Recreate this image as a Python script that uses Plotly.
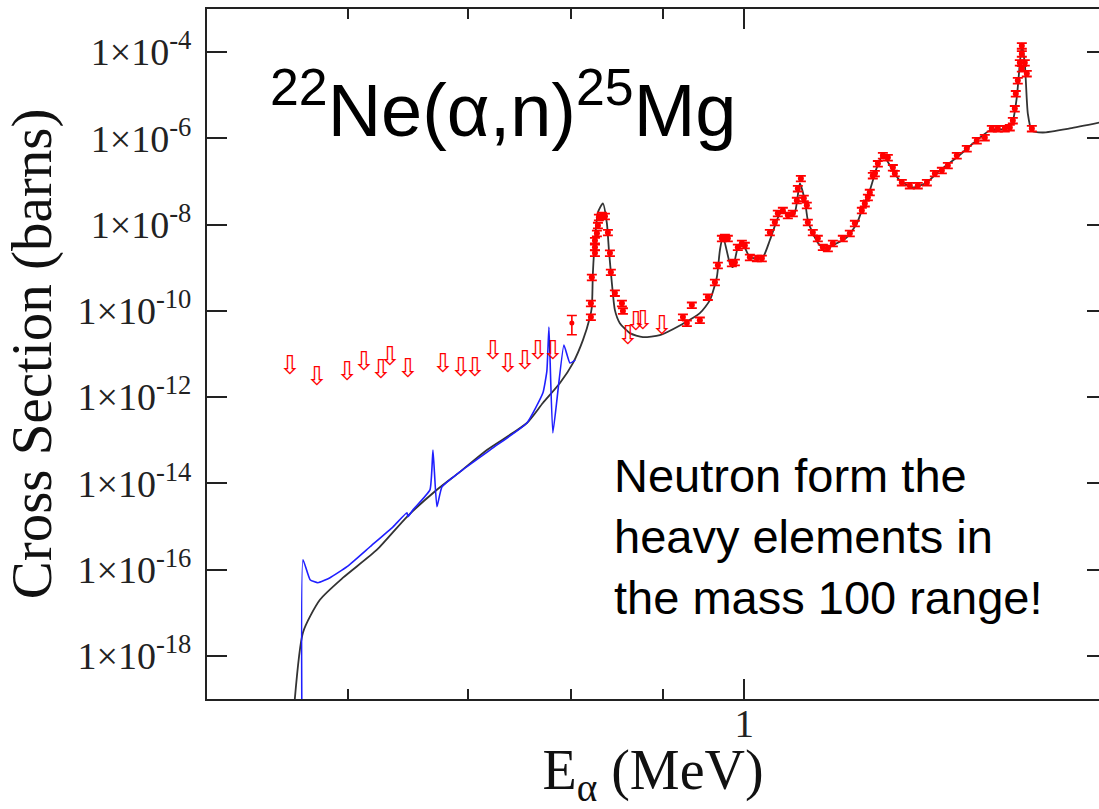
import math
import plotly.graph_objects as go

# R-matrix style calculation of the cross section (black curve)
calc_E = [0.5575, 0.5659, 0.5784, 0.5959, 0.6226, 0.6471, 0.6726, 0.6929, 0.7174, 0.7554,
          0.7711, 0.7883, 0.8016, 0.8120, 0.8194, 0.8214, 0.8225, 0.8247, 0.8279, 0.8332,
          0.8375, 0.8397, 0.8429, 0.8462, 0.8516, 0.8627, 0.8773, 0.8967, 0.9202, 0.9442,
          0.9565, 0.9651, 0.9689, 0.9727, 0.9815, 0.9853, 0.9916, 0.9968, 1.0071, 1.0163,
          1.0241, 1.0334, 1.0428, 1.0496, 1.0604, 1.0673, 1.0742, 1.0811, 1.0853, 1.0923,
          1.1023, 1.1123, 1.1267, 1.1413, 1.1562, 1.1651, 1.1756, 1.1864, 1.1956, 1.2111,
          1.2220, 1.2427, 1.2654, 1.2867, 1.3152, 1.3427, 1.3725, 1.4028, 1.4138, 1.4210,
          1.4266, 1.4303, 1.4358, 1.4414, 1.4489, 1.4695, 1.5216, 1.5815]
calc_sigma = [1e-20, 3.5e-18, 2.0e-17, 6.5e-17, 2.9e-16, 1.68e-15, 7.1e-15, 1.85e-14, 5.96e-14, 2.51e-13,
              7.3e-13, 2.12e-12, 6.16e-12, 2.1e-11, 7.15e-11, 1.22e-10, 7.46e-10, 4.33e-9, 1.93e-8, 3.11e-8,
              1.07e-8, 2.54e-9, 4.38e-10, 1.04e-10, 5.19e-11, 3.05e-11, 2.46e-11, 2.74e-11, 4.6e-11, 8.84e-11,
              1.77e-10, 6.03e-10, 2.54e-9, 5.36e-9, 1.27e-9, 1.03e-9, 2.98e-9, 3.89e-9, 1.75e-9, 1.66e-9,
              1.75e-9, 4.33e-9, 1.26e-8, 2.14e-8, 1.64e-8, 1.93e-8, 9.04e-8, 3.65e-8, 1.26e-8, 6.29e-9,
              3.32e-9, 2.83e-9, 3.69e-9, 5.08e-9, 1.07e-8, 2.51e-8, 6.22e-8, 2.12e-7, 4.02e-7, 1.81e-7,
              1.06e-7, 7.3e-8, 9.53e-8, 1.81e-7, 3.61e-7, 7.62e-7, 1.52e-6, 1.70e-6, 2.60e-6, 8.84e-6,
              5.42e-5, 1.41e-4, 5.42e-5, 3.77e-6, 1.52e-6, 1.37e-6, 1.70e-6, 2.33e-6]

# Calculation including the low-energy levels (blue curve)
alt_E = [0.5652, 0.5659, 0.5711, 0.5769, 0.5860, 0.5990, 0.6170, 0.6356, 0.6471, 0.6479,
         0.6522, 0.6666, 0.6692, 0.6726, 0.6770, 0.6929, 0.7230, 0.7554, 0.7711, 0.7751,
         0.7772, 0.7811, 0.7923, 0.7985, 0.8040]
alt_sigma = [1e-20, 1.70e-16, 5.84e-17, 4.97e-17, 6.49e-17, 1.17e-16, 3.39e-16, 9.84e-16, 2.08e-15, 1.68e-15,
             2.44e-15, 7.07e-15, 5.96e-14, 2.86e-15, 8.3e-15, 1.85e-14, 6.63e-14, 2.51e-13, 1.24e-12, 4.0e-12,
             4.19e-11, 1.48e-13, 1.61e-11, 6.16e-12, 7.2e-12]

# Measured cross sections
meas_E = [0.8204, 0.8204, 0.8214, 0.8247, 0.8247, 0.8247, 0.8268, 0.8279, 0.8289, 0.8321,
          0.8354, 0.8386, 0.8408, 0.8418, 0.8462, 0.8539, 0.8550, 0.9238, 0.9285, 0.9345,
          0.9442, 0.9540, 0.9627, 0.9664, 0.9714, 0.9752, 0.9789, 0.9840, 0.9878, 0.9916,
          0.9968, 1.0006, 1.0071, 1.0163, 1.0228, 1.0334, 1.0401, 1.0441, 1.0509, 1.0577,
          1.0645, 1.0700, 1.0714, 1.0756, 1.0797, 1.0839, 1.0853, 1.0923, 1.0994, 1.1065,
          1.1137, 1.1209, 1.1354, 1.1457, 1.1532, 1.1636, 1.1681, 1.1727, 1.1756, 1.1802,
          1.1833, 1.1879, 1.1956, 1.2033, 1.2111, 1.2142, 1.2252, 1.2379, 1.2507, 1.2654,
          1.2785, 1.2901, 1.3001, 1.3152, 1.3323, 1.3496, 1.3636, 1.3760, 1.3867, 1.3992,
          1.4083, 1.4138, 1.4174, 1.4192, 1.4229, 1.4266, 1.4303, 1.4303, 1.4303, 1.4358,
          1.4395, 1.4489]
meas_sigma = [7.2e-11, 1.5e-10, 6.0e-10, 2.2e-9, 3.0e-9, 4.3e-9, 6.3e-9, 9.6e-9, 1.48e-8, 1.64e-8,
              1.56e-8, 6.6e-9, 2.2e-9, 7.9e-10, 2.6e-10, 1.5e-10, 1.0e-10, 7.2e-11, 5.2e-11, 1.36e-10,
              6.1e-11, 2.1e-10, 4.6e-10, 1.14e-9, 4.8e-9, 5.1e-9, 4.8e-9, 1.27e-9, 1.34e-9, 3.0e-9,
              3.7e-9, 3.3e-9, 1.75e-9, 1.66e-9, 1.66e-9, 6.6e-9, 1.13e-8, 1.83e-8, 2.14e-8, 1.64e-8,
              1.83e-8, 3.65e-8, 6.9e-8, 1.18e-7, 4.1e-8, 2.8e-8, 1.13e-8, 6.6e-9, 4.8e-9, 3.0e-9,
              2.83e-9, 3.7e-9, 4.8e-9, 6.3e-9, 1.07e-8, 2.14e-8, 3.1e-8, 4.3e-8, 5.6e-8, 1.38e-7,
              1.54e-7, 2.6e-7, 4.0e-7, 3.6e-7, 2.1e-7, 1.54e-7, 9.5e-8, 8.1e-8, 8.1e-8, 9.5e-8,
              1.54e-7, 1.81e-7, 2.36e-7, 4.0e-7, 5.8e-7, 8.9e-7, 1.05e-6, 1.70e-6, 1.70e-6, 1.70e-6,
              1.79e-6, 2.6e-6, 4.9e-6, 1.09e-5, 2.2e-5, 5.7e-5, 1.41e-4, 9.2e-5, 4.15e-5, 5.7e-5,
              3.2e-5, 1.70e-6]
meas_err_pct = 15

# Single low-energy measurement with asymmetric uncertainty
low_E = [0.8005]
low_sigma = [5.2e-11]
low_err_up = [2.6e-11]
low_err_down = [2.4e-11]

# Upper limits
lim_E = [0.5565, 0.5762, 0.5990, 0.6122, 0.6258, 0.6331, 0.6479, 0.6779, 0.6938, 0.7064,
         0.7230, 0.7371, 0.7534, 0.7662, 0.7811, 0.8605, 0.8694, 0.8773, 0.8991]
lim_sigma = [4.97e-12, 2.77e-12, 3.61e-12, 6.16e-12, 4.02e-12, 8.04e-12, 4.24e-12, 5.53e-12, 4.47e-12, 4.47e-12,
             1.11e-11, 5.53e-12, 6.49e-12, 1.11e-11, 1.11e-11, 2.46e-11, 5.19e-11, 5.47e-11, 4.19e-11]

# Axis ticks
x_tick_vals = [1]
x_tick_text = ["1"]
x_minor_vals = [0.6, 0.7, 0.8, 0.9]
y_exponents = [-18, -16, -14, -12, -10, -8, -6, -4]
y_tick_vals = [10.0 ** k for k in y_exponents]
y_tick_text = ["1×10<sup>%d</sup>" % k for k in y_exponents]

E_RANGE = [0.5, 1.58]
SIGMA_EXP_RANGE = [-19, -3]

AXIS_COLOR = "#222222"
SERIF = "Liberation Serif"
SANS = "Liberation Sans"

fig = go.Figure()

fig.add_trace(go.Scatter(
    x=calc_E, y=calc_sigma, mode="lines",
    line=dict(color="#333333", width=1.8, shape="spline", smoothing=0.6),
    hoverinfo="skip",
))
fig.add_trace(go.Scatter(
    x=alt_E, y=alt_sigma, mode="lines",
    line=dict(color="#1f1fff", width=1.6, shape="spline", smoothing=0.4),
    hoverinfo="skip",
))
fig.add_trace(go.Scatter(
    x=meas_E, y=meas_sigma, mode="markers",
    marker=dict(color="#ff0000", size=6, symbol="circle"),
    error_y=dict(type="percent", value=meas_err_pct, color="#ff0000", thickness=1.8, width=5),
    cliponaxis=False,
))
fig.add_trace(go.Scatter(
    x=low_E, y=low_sigma, mode="markers",
    marker=dict(color="#ff0000", size=5),
    error_y=dict(type="data", symmetric=False, array=low_err_up, arrayminus=low_err_down,
                 color="#ff0000", thickness=1.6, width=5),
))
# Upper limits drawn as hollow downward arrows
fig.add_trace(go.Scatter(
    x=lim_E, y=lim_sigma, mode="text", text=["⇩"] * len(lim_E),
    textposition="middle center",
    textfont=dict(family="DejaVu Sans", size=26, color="#ff0000"),
    hoverinfo="skip",
))
# Carries the right-hand tick marks
fig.add_trace(go.Scatter(x=[], y=[], yaxis="y2", hoverinfo="skip"))

tick_common = dict(ticks="inside", tickwidth=1.5, tickcolor=AXIS_COLOR,
                   showgrid=False, zeroline=False)

fig.update_layout(
    width=1099, height=809,
    margin=dict(l=207, r=0, t=9, b=110),
    paper_bgcolor="white", plot_bgcolor="white",
    showlegend=False,
    xaxis=dict(
        type="log", range=[math.log10(E_RANGE[0]), math.log10(E_RANGE[1])],
        tickmode="array", tickvals=x_tick_vals, ticktext=x_tick_text, ticklen=20,
        minor=dict(tickmode="array", tickvals=x_minor_vals, ticks="inside", ticklen=10,
                   tickwidth=1.5, tickcolor=AXIS_COLOR, showgrid=False),
        showline=True, linecolor=AXIS_COLOR, linewidth=2, mirror="ticks",
        tickfont=dict(family=SERIF, size=39, color=AXIS_COLOR),
        ticklabelstandoff=-11,
        title=dict(text="E<sub>α</sub> (MeV)", font=dict(family=SERIF, size=56, color="#111111"),
                   standoff=0),
        **tick_common,
    ),
    yaxis=dict(
        type="log", range=SIGMA_EXP_RANGE,
        tickmode="array", tickvals=y_tick_vals, ticktext=y_tick_text, ticklen=20,
        showline=True, linecolor=AXIS_COLOR, linewidth=2,
        tickfont=dict(family=SERIF, size=38, color=AXIS_COLOR),
        ticklabelstandoff=6,
        title=dict(text="Cross Section (barns)", font=dict(family=SERIF, size=57, color="#111111"),
                   standoff=30),
        **tick_common,
    ),
    yaxis2=dict(
        type="log", range=SIGMA_EXP_RANGE, overlaying="y", side="right", anchor="x",
        tickmode="array", tickvals=y_tick_vals, ticklen=12, showticklabels=False,
        showline=False, **tick_common,
    ),
    annotations=[
        dict(text="<sup>22</sup>Ne(α,n)<sup>25</sup>Mg", xref="paper", yref="paper",
             x=(268 - 207) / 892, y=(699 - 154) / 690, xanchor="left", yanchor="bottom",
             showarrow=False, font=dict(family=SANS, size=74, color="black")),
        dict(text="Neutron form the<br>heavy elements in<br>the mass 100 range!",
             xref="paper", yref="paper", x=(612 - 207) / 892, y=(699 - 447) / 690,
             xanchor="left", yanchor="top", align="left", showarrow=False,
             font=dict(family=SANS, size=47, color="black")),
    ],
)

fig.write_html("out.html")
